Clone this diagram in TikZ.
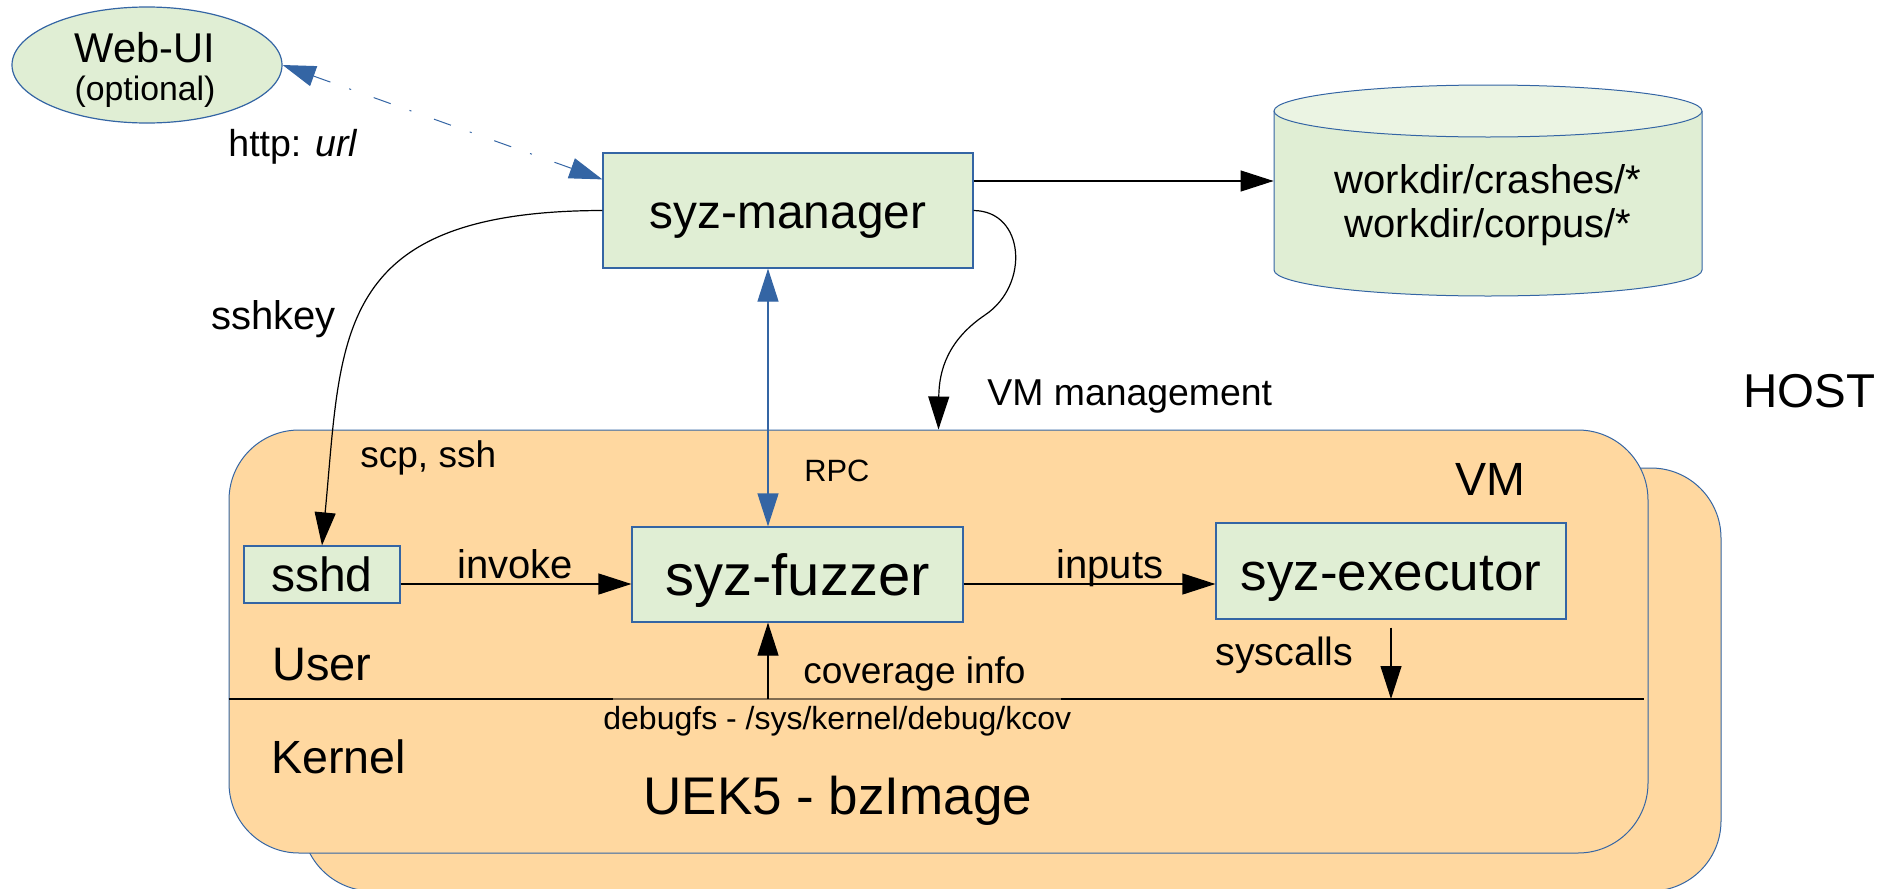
\documentclass[tikz,border=0pt]{standalone}
\usepackage{fontspec}
\setmainfont{Liberation Sans}
\usetikzlibrary{arrows.meta,shapes.geometric}

\definecolor{boxgreen}{HTML}{E0EED4}
\definecolor{dbtop}{HTML}{EBF4E3}
\definecolor{vmfill}{HTML}{FFD8A0}
\definecolor{lblue}{HTML}{3465A4}

\newcommand\fsz[1]{\fontsize{#1}{#1}\selectfont}

\tikzset{
  box/.style={rectangle, draw=lblue, fill=boxgreen, line width=0.6pt,
              inner sep=0pt, text depth=0pt},
  vmbox/.style={rectangle, draw=lblue, fill=vmfill, line width=0.5pt,
                rounded corners=35pt, inner sep=0pt,
                minimum width=709.5pt, minimum height=211.5pt},
  lab/.style={anchor=base west, inner sep=0pt},
  clab/.style={anchor=base, inner sep=0pt},
  blk/.style={draw=black, line width=0.6pt, -{Triangle[length=16.5pt,width=10.5pt]}},
  rpcarrow/.style={draw=lblue, line width=0.6pt,
                   {Triangle[length=16.5pt,width=10.5pt]}-{Triangle[length=16.5pt,width=10.5pt]}},
  webarrow/.style={draw=lblue, line width=0.5pt,
                   dash pattern=on 9pt off 10pt on 1pt off 12pt,
                   {Triangle[length=16.5pt,width=10.5pt]}-{Triangle[length=16.5pt,width=10.5pt]}},
}

\begin{document}
\begin{tikzpicture}[x=0.5pt, y=-0.5pt]
\useasboundingbox (0,0) rectangle (1880,889);

% helper rows and columns
\coordinate (fl) at (0,584);
\coordinate (kl) at (0,699);
\coordinate (dl) at (0,181);
\coordinate (rx) at (768,0);

% virtual machines (back copy, then front)
\node[vmbox] (vmback) at (1011.5,679.5) {};
\node[vmbox] (vm) at (938.5,641.5) {};

% user / kernel divider
\draw[black, line width=0.6pt] (vm.west |- kl) -- (1644,699);
\draw[black!50!vmfill, line width=0.7pt] (613,699) -- (1061,699);

% Web-UI
\node[ellipse, draw=lblue, fill=boxgreen, line width=0.6pt, inner sep=0pt,
      minimum width=135pt, minimum height=58pt] (web) at (147,65) {};
\node[clab, font=\fsz{20.8}] (webt) at (145,62) {Web-UI};
\node[clab, font=\fsz{16.9}] (webo) at (145,100) {(optional)};

% manager
\node[box, minimum width=185pt, minimum height=57.5pt, text height=17.5pt,
      font=\fsz{23.9}] (mgr) at (788,210.5) {syz-manager};

% work directory store
\node[rectangle, inner sep=0pt, minimum width=214pt, minimum height=105.5pt] (db) at (1488,190.5) {};
\fill[boxgreen] (1274,111) -- (1274,270)
   arc[start angle=180, end angle=360, x radius=107pt, y radius=13pt]
   -- (1702,111) -- cycle;
\draw[lblue, line width=0.5pt] (1274,111) -- (1274,270)
   arc[start angle=180, end angle=360, x radius=107pt, y radius=13pt]
   -- (1702,111);
\draw[lblue, fill=dbtop, line width=0.5pt] (1488,111) ellipse[x radius=107pt, y radius=13pt];
\node[clab, font=\fsz{20}] (dbl1) at (1488,193) {workdir/crashes/*};
\node[clab, font=\fsz{20}] (dbl2) at (1488,237) {workdir/corpus/*};

% components inside the VM
\node[box, minimum width=78pt, minimum height=28.5pt, text height=16.5pt,
      font=\fsz{24}] (sshd) at (322,574.5) {sshd};
\node[box, minimum width=165.5pt, minimum height=47.5pt, text height=20.5pt,
      font=\fsz{29}] (fuzz) at (797.5,574.5) {syz-fuzzer};
\node[box, minimum width=175pt, minimum height=48pt, text height=19pt,
      font=\fsz{26.5}] (exec) at (1391,571) {syz-executor};

% labels
\node[lab, font=\fsz{18.75}] (http) at (228,156) {http: \textit{url}};
\node[lab, font=\fsz{20}] (sshkey) at (211,329) {sshkey};
\node[lab, font=\fsz{18.7}] (vmm) at (987,405) {VM management};
\node[lab, font=\fsz{23.75}] (host) at (1743,407) {HOST};
\node[lab, font=\fsz{23.3}] (vmlab) at (1455,495) {VM};
\node[lab, font=\fsz{18.5}] (scp) at (360,467) {scp, ssh};
\node[lab, font=\fsz{15.4}] (rpc) at (804,481) {RPC};
\node[lab, font=\fsz{20}] (invoke) at (457,578) {invoke};
\node[lab, font=\fsz{20}] (inputs) at (1056,578) {inputs};
\node[lab, font=\fsz{23.5}] (user) at (272,680) {User};
\node[lab, font=\fsz{18.5}] (cov) at (803,683) {coverage info};
\node[lab, font=\fsz{19.7}] (sysc) at (1215,665) {syscalls};
\node[lab, font=\fsz{16}] (dbg) at (603,729) {debugfs - /sys/kernel/debug/kcov};
\node[lab, font=\fsz{23.3}] (kernel) at (271,773) {Kernel};
\node[lab, font=\fsz{26.5}] (uek) at (643,814) {UEK5 - bzImage};

% connectors
\draw[webarrow] (web.east) -- ([yshift=-13.5pt]mgr.north west);
\draw[blk] (mgr.east |- dl) -- (db.west |- dl);
\draw[blk] (mgr.west) .. controls (331,211) and (342,337) .. (sshd.north);
\draw[blk] (mgr.east) .. controls (1025,211) and (1030,285) .. (985,315)
                      .. controls (948,340) and (939,370) .. (vm.north);
\draw[rpcarrow] (rx |- mgr.south) -- (rx |- fuzz.north);
\draw[blk] (sshd.east |- fl) -- (fuzz.west |- fl);
\draw[blk] (fuzz.east |- fl) -- (exec.west |- fl);
\draw[blk] ([yshift=-4pt]exec.south) -- (exec.south |- kl);
\draw[blk] (rx |- kl) -- (rx |- fuzz.south);
\end{tikzpicture}
\end{document}
